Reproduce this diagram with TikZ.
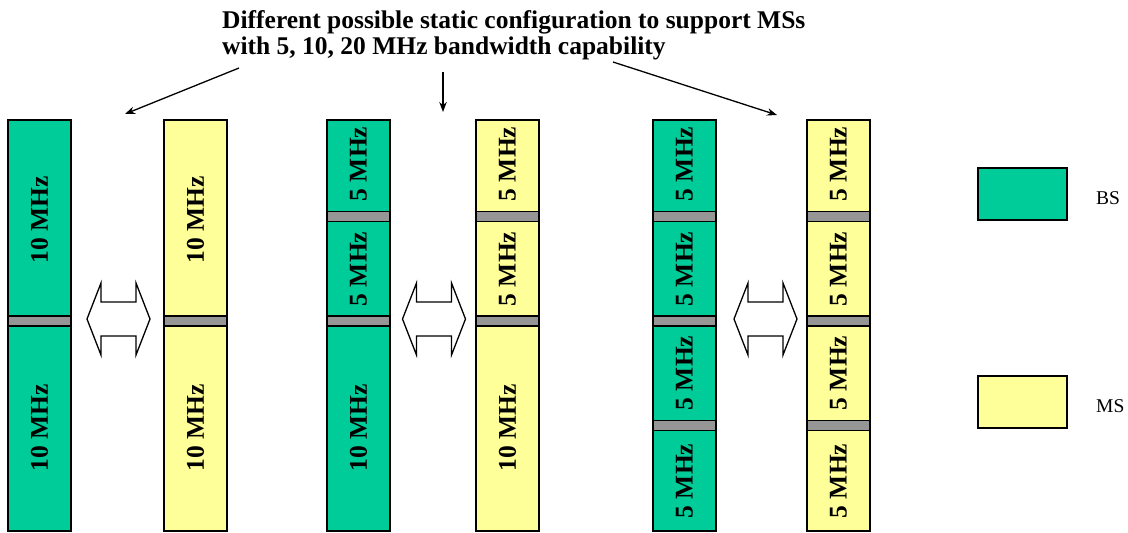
\documentclass[tikz,border=0pt]{standalone}
\usepackage{fontspec}
\setmainfont{Liberation Serif}
\usetikzlibrary{arrows.meta}
\definecolor{bsgreen}{RGB}{0,204,153}
\definecolor{msyellow}{RGB}{255,255,153}
\definecolor{sepgray}{RGB}{150,150,150}
\begin{document}
\begin{tikzpicture}[x=1pt,y=-1pt,
  colbox/.style={draw=black, line width=1.6pt, minimum width=63pt, minimum height=411pt, inner sep=0pt},
  bscol/.style={colbox, fill=bsgreen},
  mscol/.style={colbox, fill=msyellow},
  sepbar/.style={draw=black, line width=1.6pt, fill=sepgray, minimum width=63pt, minimum height=10pt, inner sep=0pt},
  bwlabel/.style={rotate=90, font=\bfseries\fontsize{25.5}{28}\selectfont, inner sep=0pt},
  dblarrow/.style={draw=black, line width=1.3pt, fill=white},
  pointer/.style={draw=black, line width=1.3pt, -{Stealth[length=10pt,width=7.5pt]}},
  legbox/.style={draw=black, line width=1.6pt, minimum width=89pt, minimum height=52pt, inner sep=0pt},
  legtext/.style={font=\fontsize{19.5}{22}\selectfont, inner sep=0pt}
]
\useasboundingbox (0,0) rectangle (1128,533);

% title
\node[anchor=north west, align=left, inner sep=0pt,
      font=\bfseries\fontsize{25.5}{26}\selectfont] (title) at (222,10)
  {Different possible static configuration to support MSs\\with 5, 10, 20 MHz bandwidth capability};

% title pointers
\coordinate (p1s) at (239,68);  \coordinate (p1e) at (125,114);
\coordinate (p2s) at (443,72);  \coordinate (p2e) at (443,112);
\coordinate (p3s) at (613,62);  \coordinate (p3e) at (777,115);
\draw[pointer] (p1s) -- (p1e);
\draw[pointer] (p2s) -- (p2e);
\draw[pointer] (p3s) -- (p3e);

% configuration 1: 2 x 10 MHz
\node[bscol] (c1b) at (39.5,325.5) {};
\node[mscol] (c1m) at (195.5,325.5) {};
\node[sepbar] (s1b) at (39.5,321) {};
\node[sepbar] (s1m) at (195.5,321) {};
\node[bwlabel] (l1b1) at (39.5,220) {10 MHz};
\node[bwlabel] (l1b2) at (39.5,428) {10 MHz};
\node[bwlabel] (l1m1) at (195.5,220) {10 MHz};
\node[bwlabel] (l1m2) at (195.5,428) {10 MHz};

% configuration 2: 5 + 5 + 10 MHz
\node[bscol] (c2b) at (358.5,325.5) {};
\node[mscol] (c2m) at (507.5,325.5) {};
\node[sepbar] (s2b1) at (358.5,216.5) {};
\node[sepbar] (s2b2) at (358.5,321) {};
\node[sepbar] (s2m1) at (507.5,216.5) {};
\node[sepbar] (s2m2) at (507.5,321) {};
\node[bwlabel] (l2b1) at (358.5,164) {5 MHz};
\node[bwlabel] (l2b2) at (358.5,269) {5 MHz};
\node[bwlabel] (l2b3) at (358.5,428) {10 MHz};
\node[bwlabel] (l2m1) at (507.5,164) {5 MHz};
\node[bwlabel] (l2m2) at (507.5,269) {5 MHz};
\node[bwlabel] (l2m3) at (507.5,428) {10 MHz};

% configuration 3: 4 x 5 MHz
\node[bscol] (c3b) at (684.5,325.5) {};
\node[mscol] (c3m) at (838.5,325.5) {};
\foreach \y/\n in {216.5/1, 321/2, 425.5/3}{
  \node[sepbar] (s3b\n) at (684.5,\y) {};
  \node[sepbar] (s3m\n) at (838.5,\y) {};
}
\foreach \y/\n in {164/1, 269/2, 373/3, 481/4}{
  \node[bwlabel] (l3b\n) at (684.5,\y) {5 MHz};
  \node[bwlabel] (l3m\n) at (838.5,\y) {5 MHz};
}

% double arrows between BS and MS
\foreach \cx in {118.5, 434, 765.5}{
  \draw[dblarrow] (\cx-31.5,319) -- (\cx-17.5,283) -- (\cx-17.5,302) -- (\cx+17.5,302)
    -- (\cx+17.5,283) -- (\cx+31.5,319) -- (\cx+17.5,355) -- (\cx+17.5,336)
    -- (\cx-17.5,336) -- (\cx-17.5,355) -- cycle;
}

% legend
\node[legbox, fill=bsgreen] (legbs) at (1022.5,194) {};
\node[legbox, fill=msyellow] (legms) at (1022.5,402) {};
\node[legtext, anchor=west] (legbst) at (1096,198) {BS};
\node[legtext, anchor=west] (legmst) at (1096,406) {MS};
\end{tikzpicture}
\end{document}
